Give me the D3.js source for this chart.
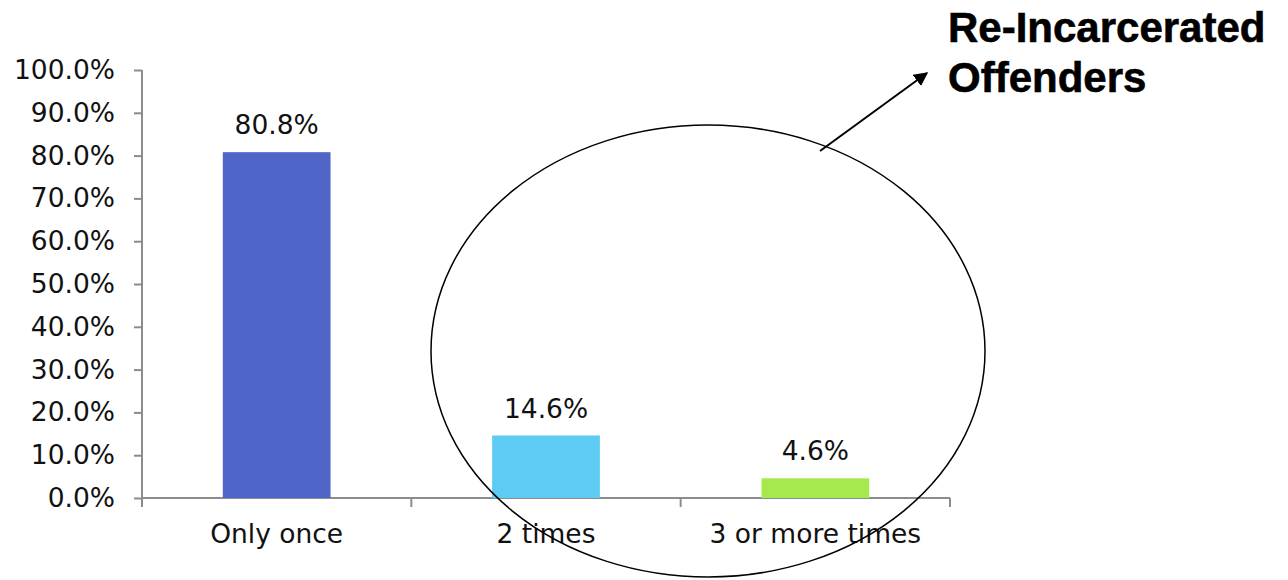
<!DOCTYPE html>
<html>
<head>
<meta charset="utf-8">
<script src="https://cdn.jsdelivr.net/npm/d3@7"></script>
<style>
  body { margin: 0; background: #fff; }
</style>
</head>
<body>
<svg id="chart" width="1288" height="580"></svg>
<script>
// data
const categories = ["Only once", "2 times", "3 or more times"];
const values = [80.8, 14.6, 4.6];
const barColors = ["#4f66c8", "#5ecbf2", "#a6e84e"];
const yTicks = [0, 10, 20, 30, 40, 50, 60, 70, 80, 90, 100];
const titleLines = ["Re-Incarcerated", "Offenders"];

var svg = d3.select("#chart");
var plotLeft = 142, plotRight = 950, plotTop = 70, plotBottom = 498;
var axisColor = "#8c8c8c";
var labelFont = "DejaVu Sans, Verdana, sans-serif";

var x = d3.scaleBand()
  .domain(categories)
  .range([plotLeft, plotRight])
  .paddingInner(0.6)
  .paddingOuter(0.3);

var y = d3.scaleLinear()
  .domain([0, 100])
  .range([plotBottom, plotTop]);

// y axis
var yAxis = svg.append("g")
  .attr("transform", "translate(" + plotLeft + ",0)")
  .call(d3.axisLeft(y).tickValues(yTicks).tickSize(8).tickPadding(19)
    .tickFormat(d => d.toFixed(1) + "%"));
yAxis.select(".domain").attr("stroke", axisColor).attr("stroke-width", 2)
  .attr("d", "M0," + plotTop + "V" + (plotBottom + 8));
yAxis.selectAll(".tick line").attr("stroke", axisColor).attr("stroke-width", 2);
yAxis.selectAll("text")
  .attr("font-family", labelFont)
  .attr("font-size", "26.5px")
  .attr("fill", "#111");

// x axis: line with ticks on category boundaries
var step = (plotRight - plotLeft) / categories.length;
svg.append("line")
  .attr("x1", plotLeft).attr("x2", plotRight)
  .attr("y1", plotBottom).attr("y2", plotBottom)
  .attr("stroke", axisColor).attr("stroke-width", 2);
svg.selectAll(".xtick")
  .data(d3.range(categories.length + 1))
  .enter()
  .append("line")
    .attr("class", "xtick")
    .attr("x1", i => plotLeft + i * step)
    .attr("x2", i => plotLeft + i * step)
    .attr("y1", plotBottom).attr("y2", plotBottom + 9)
    .attr("stroke", axisColor).attr("stroke-width", 2);

svg.selectAll(".xlabel")
  .data(categories)
  .enter()
  .append("text")
    .attr("class", "xlabel")
    .attr("x", d => x(d) + x.bandwidth() / 2)
    .attr("y", plotBottom + 45)
    .attr("text-anchor", "middle")
    .attr("font-family", labelFont)
    .attr("font-size", "26.5px")
    .attr("fill", "#111")
    .text(d => d);

// bars
svg.selectAll(".bar")
  .data(values)
  .enter()
  .append("rect")
    .attr("class", "bar")
    .attr("x", (d, i) => x(categories[i]))
    .attr("y", d => y(d))
    .attr("width", x.bandwidth())
    .attr("height", d => plotBottom - y(d))
    .attr("fill", (d, i) => barColors[i]);

// value labels
svg.selectAll(".vlabel")
  .data(values)
  .enter()
  .append("text")
    .attr("class", "vlabel")
    .attr("x", (d, i) => x(categories[i]) + x.bandwidth() / 2)
    .attr("y", d => y(d) - 18)
    .attr("text-anchor", "middle")
    .attr("font-family", labelFont)
    .attr("font-size", "26.5px")
    .attr("fill", "#111")
    .text(d => d.toFixed(1) + "%");

// ellipse around the re-incarcerated groups
svg.append("ellipse")
  .attr("cx", 708).attr("cy", 351)
  .attr("rx", 277).attr("ry", 226)
  .attr("fill", "none")
  .attr("stroke", "#000")
  .attr("stroke-width", 1.5);

// arrow
svg.append("defs").append("marker")
  .attr("id", "arrow")
  .attr("viewBox", "0 0 10 10")
  .attr("refX", 9).attr("refY", 5)
  .attr("markerWidth", 7).attr("markerHeight", 7)
  .attr("orient", "auto")
  .attr("markerUnits", "strokeWidth")
  .append("path")
    .attr("d", "M0,0L10,5L0,10z")
    .attr("fill", "#000");

svg.append("line")
  .attr("x1", 820).attr("y1", 151)
  .attr("x2", 927).attr("y2", 73)
  .attr("stroke", "#000")
  .attr("stroke-width", 2)
  .attr("marker-end", "url(#arrow)");

// annotation title
svg.append("text")
  .attr("x", 948)
  .attr("y", 42)
  .attr("font-family", "Liberation Sans, Arial, sans-serif")
  .attr("font-weight", "bold")
  .attr("font-size", "42px")
  .attr("fill", "#000")
  .attr("stroke", "#000")
  .attr("stroke-width", 0.6)
  .selectAll("tspan")
  .data(titleLines)
  .enter()
  .append("tspan")
    .attr("x", 948)
    .attr("dy", (d, i) => i === 0 ? 0 : 50)
    .text(d => d);
</script>
</body>
</html>
